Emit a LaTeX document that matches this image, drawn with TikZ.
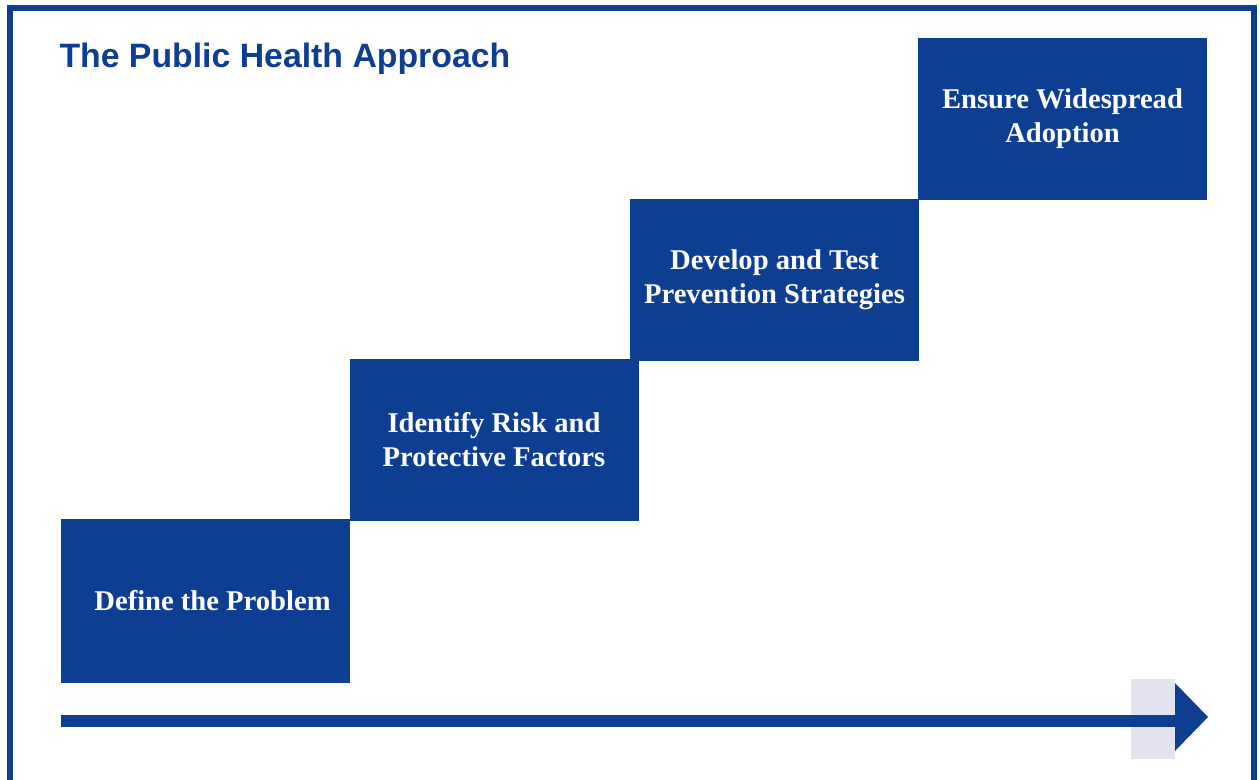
\documentclass[tikz,border=0pt]{standalone}
\usepackage{fontspec}
\setmainfont{Liberation Serif}
\newfontfamily\titlefont{Liberation Sans}
\definecolor{phblue}{HTML}{0D3E92}
\definecolor{phgray}{HTML}{E3E3EF}
\tikzset{
  stepbox/.style={fill=phblue,text=white,minimum width=289pt,minimum height=162pt,
    inner sep=0pt,align=center,font=\fontsize{28.6}{34}\selectfont\bfseries},
}
\begin{document}
\begin{tikzpicture}[x=1pt,y=-1pt]
\useasboundingbox (0,0) rectangle (1260,779);
\clip (0,0) rectangle (1260,779);
\draw[phblue,line width=6pt] (10,8) rectangle (1253.5,800);
\node[anchor=base west,text=phblue,font=\titlefont\bfseries\fontsize{33.8}{36}\selectfont] (title) at (56,67) {The Public Health Approach};
% the four steps
\node[stepbox,minimum height=164pt] (define) at (205.5,601) {\hspace*{14pt}Define the Problem};
\node[stepbox] (identify) at (494,440) {Identify Risk and\\Protective Factors};
\node[stepbox] (develop) at (774.5,279.5) {Develop and Test\\Prevention Strategies};
\node[stepbox] (ensure) at (1062.5,118.5) {Ensure Widespread\\Adoption};
% time arrow
\coordinate (start) at (61,721);
\coordinate (base) at (1175,721);
\coordinate (tip) at (1208,717);
\fill[phgray] (1131,679) rectangle (1175,759);
\draw[phblue,line width=12pt] (start) -- ([xshift=1pt]base);
\fill[phblue] (1175,683) -- (tip) -- (1175,751) -- cycle;
\end{tikzpicture}
\end{document}
